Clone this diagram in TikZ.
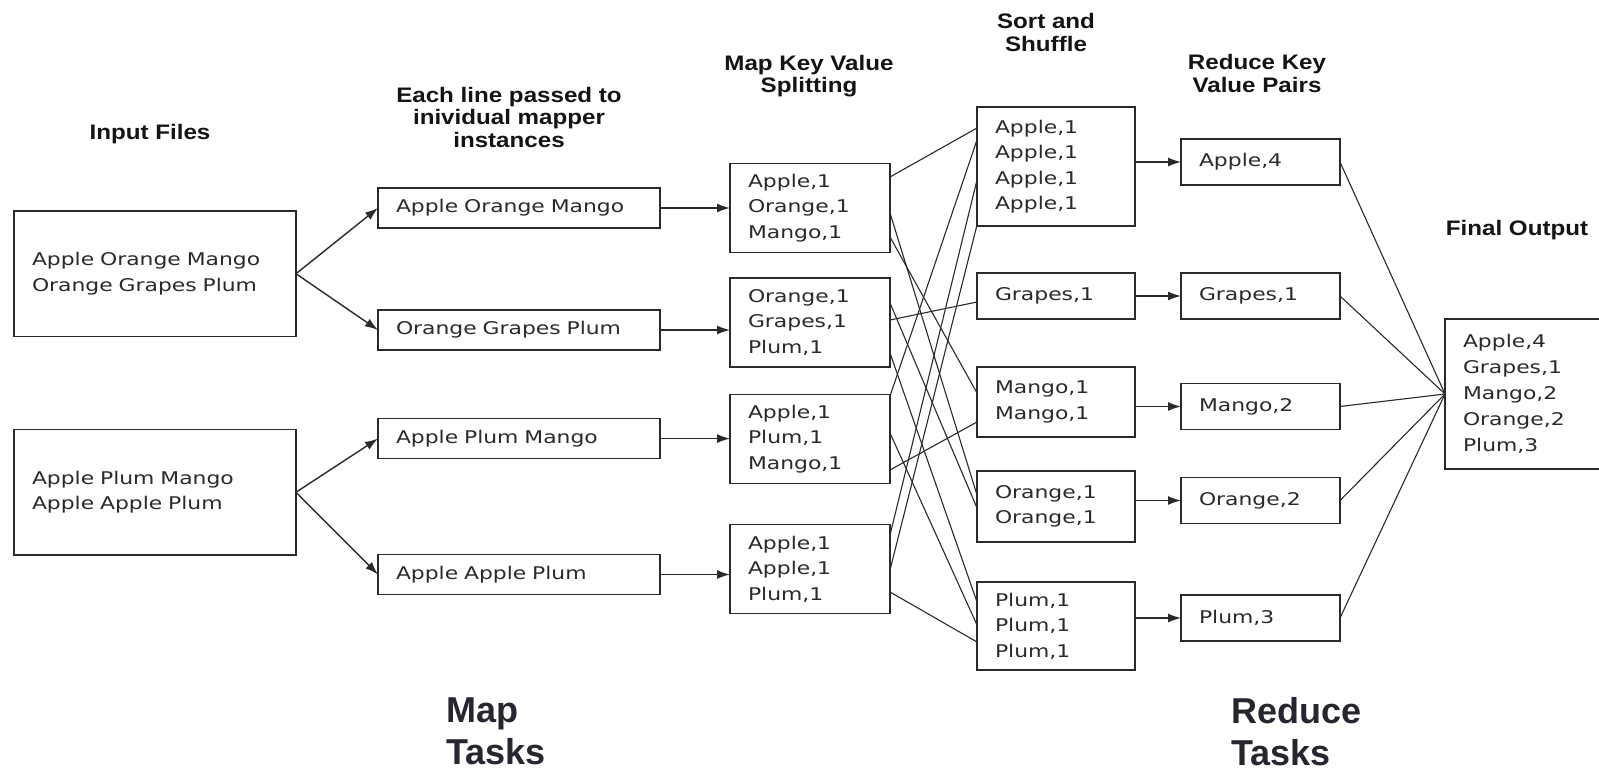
\documentclass[tikz,border=0pt]{standalone}
\usepackage{fontspec}
\usetikzlibrary{arrows.meta,calc}
\newfontfamily\bodyfont{DejaVu Sans}[FakeStretch=1.25]
\newfontfamily\headfont{Liberation Sans}[FakeStretch=1.15]
\newfontfamily\taskfont{Liberation Sans}
\definecolor{ink}{HTML}{2A2A2A}
\definecolor{taskink}{HTML}{262631}
\begin{document}
\begin{tikzpicture}[x=1pt,y=-1pt,
  box/.style={draw=ink, line width=1.4pt, inner xsep=18pt, inner ysep=0pt, outer sep=0pt,
    align=left, text=ink, font=\bodyfont\fontsize{17.5}{25.5}\selectfont},
  inbox/.style={box, text width=246pt, minimum height=125.5pt},
  mapperbox/.style={box, text width=246pt, minimum height=40pt},
  splitbox/.style={box, text width=124pt, minimum height=89pt},
  shufbox/.style={box, text width=122pt},
  redbox/.style={box, text width=123pt, minimum height=46pt},
  finalbox/.style={box, text width=122pt, minimum height=150pt, font=\bodyfont\fontsize{17.5}{26}\selectfont},
  head/.style={font=\headfont\bfseries\fontsize{21}{22.5}\selectfont, align=center, text=black!92, inner sep=0pt},
  task/.style={font=\taskfont\bfseries\fontsize{36}{42}\selectfont, align=left, text=taskink, inner sep=0pt, anchor=north west},
  arr/.style={draw=ink, line width=1.4pt, -{Latex[length=13pt,width=9pt]}},
  wire/.style={draw=ink, line width=1.1pt}
]
\path[use as bounding box, fill=white] (0,0) rectangle (1599,770);

% headings
\node[head] (hInput) at (150,134) {Input Files};
\node[head] (hEach) at (509,117) {Each line passed to\\inividual mapper\\instances};
\node[head] (hMap) at (809,76) {Map Key Value\\Splitting};
\node[head] (hSort) at (1046,32.5) {Sort and\\Shuffle};
\node[head] (hRed) at (1257,73.5) {Reduce Key\\Value Pairs};
\node[head] (hFinal) at (1517,230) {Final Output};

% input files
\node[inbox] (in1) at (155,273.75) {Apple Orange Mango\\Orange Grapes Plum};
\node[inbox] (in2) at (155,492.25) {Apple Plum Mango\\Apple Apple Plum};

% mapper instances
\node[mapperbox] (m1) at (519,208) {Apple Orange Mango};
\node[mapperbox] (m2) at (519,330) {Orange Grapes Plum};
\node[mapperbox] (m3) at (519,438.6) {Apple Plum Mango};
\node[mapperbox] (m4) at (519,574.5) {Apple Apple Plum};

% map key value splitting
\node[splitbox] (sA) at (810,208) {Apple,1\\Orange,1\\Mango,1};
\node[splitbox] (sB) at (810,322.5) {Orange,1\\Grapes,1\\Plum,1};
\node[splitbox] (sC) at (810,439) {Apple,1\\Plum,1\\Mango,1};
\node[splitbox] (sD) at (810,569) {Apple,1\\Apple,1\\Plum,1};

% sort and shuffle
\node[shufbox, minimum height=119pt] (hA) at (1056,166.5) {Apple,1\\Apple,1\\Apple,1\\Apple,1};
\node[shufbox, minimum height=46pt] (hG) at (1056,296) {Grapes,1};
\node[shufbox, minimum height=70pt] (hM) at (1056,402) {Mango,1\\Mango,1};
\node[shufbox, minimum height=71pt] (hO) at (1056,506.5) {Orange,1\\Orange,1};
\node[shufbox, minimum height=88pt] (hP) at (1056,626) {Plum,1\\Plum,1\\Plum,1};

% reduce
\node[redbox] (rA) at (1260.5,162) {Apple,4};
\node[redbox] (rG) at (1260.5,296) {Grapes,1};
\node[redbox] (rM) at (1260.5,406.5) {Mango,2};
\node[redbox] (rO) at (1260.5,500.5) {Orange,2};
\node[redbox] (rP) at (1260.5,618) {Plum,3};

% final output
\node[finalbox] (fin) at (1524,394) {Apple,4\\Grapes,1\\Mango,2\\Orange,2\\Plum,3};

% arrows input -> mappers
\draw[arr] (in1.east) -- (m1.west);
\draw[arr] (in1.east) -- (m2.west);
\draw[arr] (in2.east) -- (m3.west);
\draw[arr] (in2.east) -- (m4.west);

% mappers -> splitting
\draw[arr] (m1.east) -- (m1.east -| sA.west);
\draw[arr] (m2.east) -- (m2.east -| sB.west);
\draw[arr] (m3.east) -- (m3.east -| sC.west);
\draw[arr] (m4.east) -- (m4.east -| sD.west);

% shuffle wires
\draw[wire] (sA.east |- 0,177) -- (hA.west |- 0,128);
\draw[wire] (sA.east |- 0,213) -- (hO.west |- 0,495);
\draw[wire] (sA.east |- 0,237) -- (hM.west |- 0,393);
\draw[wire] (sB.east |- 0,303) -- (hO.west |- 0,508);
\draw[wire] (sB.east |- 0,320) -- (hG.west |- 0,302);
\draw[wire] (sB.east |- 0,353) -- (hP.west |- 0,602);
\draw[wire] (sC.east |- 0,396) -- (hA.west |- 0,140);
\draw[wire] (sC.east |- 0,433) -- (hP.west |- 0,625);
\draw[wire] (sC.east |- 0,470) -- (hM.west |- 0,422);
\draw[wire] (sD.east |- 0,535) -- (hA.west |- 0,180);
\draw[wire] (sD.east |- 0,570) -- (hA.west |- 0,225);
\draw[wire] (sD.east |- 0,592) -- (hP.west |- 0,642);

% shuffle -> reduce
\draw[arr] (rA.west -| hA.east) -- (rA.west);
\draw[arr] (rG.west -| hG.east) -- (rG.west);
\draw[arr] (rM.west -| hM.east) -- (rM.west);
\draw[arr] (rO.west -| hO.east) -- (rO.west);
\draw[arr] (rP.west -| hP.east) -- (rP.west);

% reduce -> final
\draw[wire] (rA.east) -- (fin.west);
\draw[wire] (rG.east) -- (fin.west);
\draw[wire] (rM.east) -- (fin.west);
\draw[wire] (rO.east) -- (fin.west);
\draw[wire] (rP.east) -- (fin.west);

% task labels
\node[task] (mapTasks) at (446,698) {Map\\Tasks};
\node[task] (redTasks) at (1231,697) {Reduce\\Tasks};
\end{tikzpicture}
\end{document}
